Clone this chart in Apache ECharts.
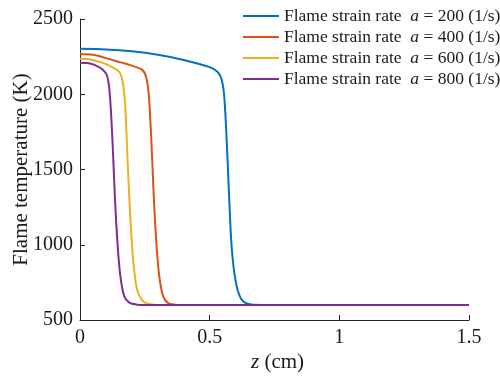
<!DOCTYPE html>
<html><head><meta charset="utf-8">
<script src="https://cdn.jsdelivr.net/npm/echarts@6/dist/echarts.min.js"></script>
<style>html,body{margin:0;padding:0;background:#fff}#c{width:500px;height:376px}</style>
</head><body><div id="c"></div>
<script>
const strainRates = [200, 400, 600, 800];
const colors = ['#0072BD', '#D95319', '#EDB120', '#7E2F8E'];
const xTicks = [0, 0.5, 1, 1.5];
const yTicks = [500, 1000, 1500, 2000, 2500];

const z200 = [0, 0.1, 0.2, 0.3, 0.4, 0.5, 0.53, 0.545, 0.555, 0.565, 0.575, 0.585, 0.6, 0.62, 0.65, 0.7, 1.0, 1.5];
const T200 = [2302, 2298, 2285, 2262, 2228, 2180, 2150, 2105, 2010, 1720, 1320, 980, 760, 645, 606, 600, 600, 600];

const z400 = [0, 0.05, 0.1, 0.15, 0.2, 0.24, 0.255, 0.265, 0.275, 0.285, 0.295, 0.305, 0.32, 0.34, 0.37, 0.5, 1.0, 1.5];
const T400 = [2268, 2262, 2240, 2215, 2190, 2162, 2115, 2000, 1700, 1300, 1000, 800, 660, 612, 601, 600, 600, 600];

const z600 = [0, 0.04, 0.1, 0.15, 0.165, 0.175, 0.185, 0.195, 0.205, 0.22, 0.24, 0.26, 0.3, 0.5, 1.0, 1.5];
const T600 = [2236, 2231, 2200, 2150, 2080, 1900, 1500, 1150, 900, 700, 630, 608, 600, 600, 600, 600];

const z800 = [0, 0.03, 0.06, 0.09, 0.105, 0.115, 0.125, 0.135, 0.145, 0.155, 0.17, 0.19, 0.22, 0.25, 0.5, 1.0, 1.5];
const T800 = [2210, 2207, 2192, 2160, 2120, 2000, 1700, 1300, 1000, 800, 660, 615, 602, 600, 600, 600, 600];

const zs = [z200, z400, z600, z800];
const Ts = [T200, T400, T600, T800];

const font = 'Liberation Serif';
const txt = '#1a1a1a';
const chart = echarts.init(document.getElementById('c'));
chart.setOption({
  animation: false,
  backgroundColor: '#fff',
  grid: { left: 80, right: 31, top: 19, bottom: 56, containLabel: false, outerBoundsMode: 'none' },
  legend: {
    show: true,
    orient: 'vertical',
    left: 238, top: 2,
    itemWidth: 36, itemHeight: 2, itemGap: 3,
    icon: 'rect',
    data: strainRates.map(a => 'a' + a),
    formatter: name => '{n|Flame strain rate  }{i|a}{n| = ' + name.slice(1) + ' (1/s)}',
    textStyle: {
      fontFamily: font, fontSize: 17.5, color: txt,
      rich: {
        n: { fontFamily: font, fontSize: 17.5, color: txt },
        i: { fontFamily: font, fontSize: 17.5, fontStyle: 'italic', color: txt }
      }
    }
  },
  xAxis: {
    type: 'value', min: 0, max: 1.5, interval: 0.5,
    name: '{i|z}{n| (cm)}', nameLocation: 'middle', nameGap: 32, nameMoveOverlap: false,
    nameTextStyle: {
      padding: [0, 0, 0, 6],
      rich: {
        i: { fontFamily: font, fontSize: 21, fontStyle: 'italic', color: txt },
        n: { fontFamily: font, fontSize: 21, color: txt }
      }
    },
    axisLine: { show: true, lineStyle: { color: '#262626', width: 1 } },
    axisTick: { show: true, inside: true, length: 5, lineStyle: { color: '#262626' } },
    axisLabel: { fontFamily: font, fontSize: 20, color: txt, margin: 8,
      formatter: v => xTicks.includes(v) ? String(v) : '' },
    splitLine: { show: false }
  },
  yAxis: {
    type: 'value', min: 500, max: 2500, interval: 500,
    name: 'Flame temperature (K)', nameLocation: 'middle', nameGap: 48, nameMoveOverlap: false,
    nameTextStyle: { fontFamily: font, fontSize: 21, color: txt },
    axisLine: { show: true, lineStyle: { color: '#262626', width: 1 } },
    axisTick: { show: true, inside: true, length: 5, lineStyle: { color: '#262626' } },
    axisLabel: { fontFamily: font, fontSize: 20, color: txt, margin: 7,
      formatter: v => yTicks.includes(v) ? String(v) : '' },
    splitLine: { show: false }
  },
  series: strainRates.map((a, k) => ({
    name: 'a' + a,
    type: 'line',
    data: zs[k].map((z, i) => [z, Ts[k][i]]),
    showSymbol: false,
    smooth: 0.3,
    lineStyle: { color: colors[k], width: 2 },
    itemStyle: { color: colors[k] },
    z: 2 + k
  }))
});
</script></body></html>
